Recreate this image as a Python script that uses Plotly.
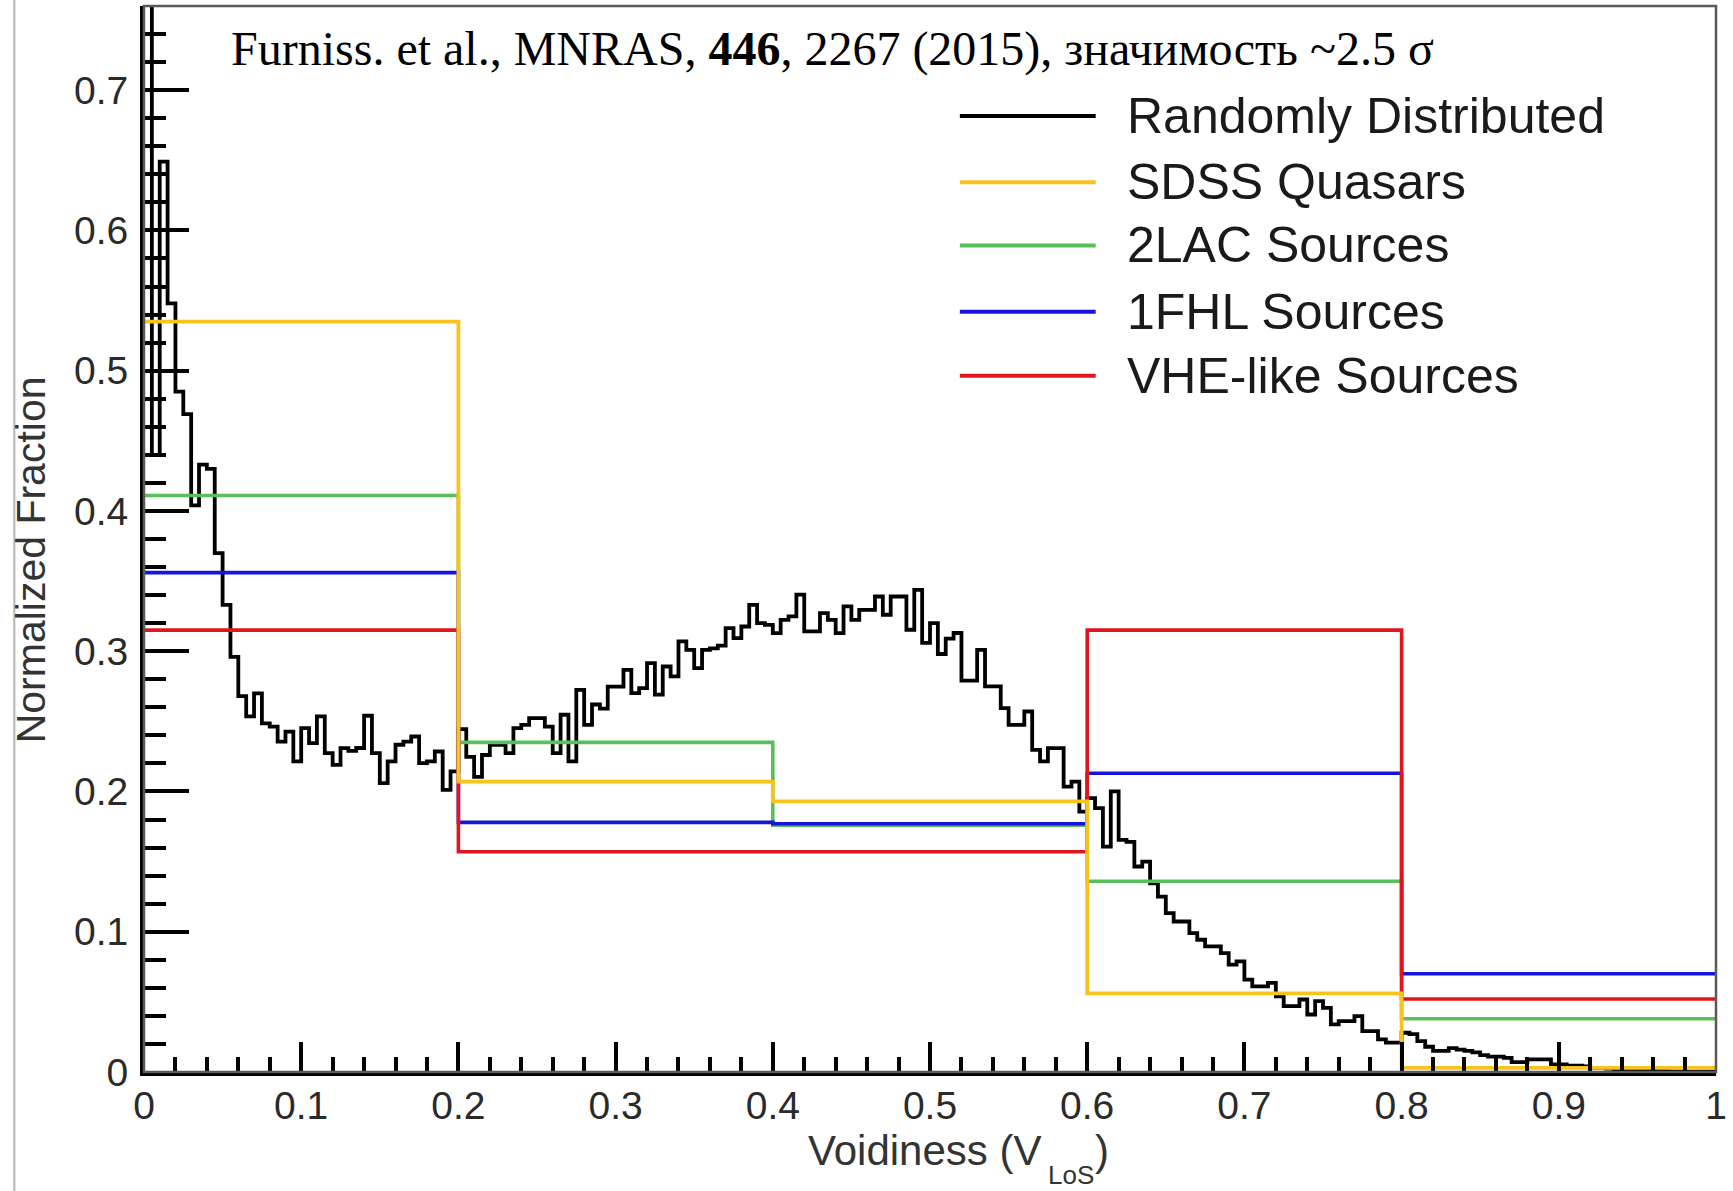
import plotly.graph_objects as go

# ---- Voidiness distribution of randomly distributed sky positions (200 bins of width 0.005)
random_bin_width = 0.005
random_fraction = [
    0.80, 0.44, 0.649, 0.548, 0.485, 0.469, 0.404, 0.433, 0.430, 0.370,
    0.333, 0.296, 0.268, 0.2535, 0.270, 0.2486, 0.2463, 0.2356, 0.2427, 0.2214,
    0.2452, 0.2345, 0.2535, 0.2273, 0.219, 0.2309, 0.229, 0.231, 0.254, 0.2273,
    0.2059, 0.2214, 0.2333, 0.2356, 0.2392, 0.2202, 0.2214, 0.2285, 0.2012, 0.2143,
    0.2445, 0.2247, 0.2104, 0.226, 0.2333, 0.2333, 0.2273, 0.2452, 0.2475, 0.2523,
    0.2523, 0.2463, 0.2273, 0.2547, 0.2214, 0.2725, 0.2475, 0.262, 0.259, 0.2748,
    0.2748, 0.2867, 0.2701, 0.2737, 0.2915, 0.269, 0.2891, 0.282, 0.307, 0.301,
    0.2879, 0.301, 0.302, 0.304, 0.3164, 0.3093, 0.3176, 0.333, 0.320, 0.3188,
    0.3129, 0.3224, 0.3248, 0.3403, 0.3141, 0.3141, 0.3272, 0.3224, 0.3129, 0.332,
    0.3224, 0.3295, 0.3295, 0.339, 0.326, 0.339, 0.339, 0.3153, 0.3438, 0.306,
    0.320, 0.298, 0.309, 0.313, 0.279, 0.279, 0.301, 0.275, 0.275, 0.2594,
    0.2475, 0.2475, 0.257, 0.2297, 0.2214, 0.2309, 0.2309, 0.2035, 0.207, 0.1857,
    0.1952, 0.1881, 0.1607, 0.200, 0.1655, 0.164, 0.1465, 0.150, 0.1345, 0.125,
    0.1133, 0.1073, 0.1073, 0.099, 0.0943, 0.0896, 0.0896, 0.0848, 0.0765, 0.0789,
    0.0659, 0.0611, 0.0611, 0.0635, 0.054, 0.0469, 0.0469, 0.0517, 0.041, 0.0505,
    0.0457, 0.0339, 0.0363, 0.0363, 0.0398, 0.0291, 0.0291, 0.0232, 0.0209, 0.0209,
    0.028, 0.027, 0.022, 0.018, 0.015, 0.015, 0.017, 0.016, 0.015, 0.014,
    0.012, 0.011, 0.011, 0.010, 0.007, 0.007, 0.009, 0.009, 0.009, 0.0055,
    0.0055, 0.0045, 0.0045, 0.004, 0.003, 0.003, 0.0025, 0.002, 0.002, 0.0015,
    0.0015, 0.001, 0.001, 0.0008, 0.0005, 0.0005, 0.0003, 0.0003, 0.0002, 0.0002,
]

# ---- Source catalogues in five coarse voidiness bins
coarse_edges = [0.0, 0.2, 0.4, 0.6, 0.8, 1.0]
sdss_quasars = [0.535, 0.207, 0.193, 0.056, 0.003]
lac2_sources = [0.411, 0.235, 0.176, 0.136, 0.038]
fhl1_sources = [0.356, 0.178, 0.177, 0.213, 0.070]
vhe_like_sources = [0.315, 0.157, 0.157, 0.315, 0.052]

# ---- Axis ticks
x_ticks = [0, 0.1, 0.2, 0.3, 0.4, 0.5, 0.6, 0.7, 0.8, 0.9, 1.0]
x_tick_labels = ["0", "0.1", "0.2", "0.3", "0.4", "0.5", "0.6", "0.7", "0.8", "0.9", "1"]
y_ticks = [0, 0.1, 0.2, 0.3, 0.4, 0.5, 0.6, 0.7]
y_tick_labels = ["0", "0.1", "0.2", "0.3", "0.4", "0.5", "0.6", "0.7"]

# ---- Legend entries (label, colour), top to bottom
COL_BLACK = "#000000"
COL_YELLOW = "#F7C31C"
COL_GREEN = "#58C058"
COL_BLUE = "#1414DC"
COL_RED = "#E0161E"
legend_entries = [
    ("Randomly Distributed", COL_BLACK),
    ("SDSS Quasars", COL_YELLOW),
    ("2LAC Sources", COL_GREEN),
    ("1FHL Sources", COL_BLUE),
    ("VHE-like Sources", COL_RED),
]

SANS = "Liberation Sans, Arial, Helvetica, sans-serif"
SERIF = "Liberation Serif, Times New Roman, serif"


def step_xy(edges, values):
    """Points for an 'hv' step outline of a histogram with the given bin edges."""
    return list(edges), list(values) + [values[-1]]


random_edges = [round(i * random_bin_width, 4) for i in range(len(random_fraction) + 1)]

fig = go.Figure()

series = [
    ("Randomly Distributed", random_edges, random_fraction, COL_BLACK, 3.8),
    ("2LAC Sources", coarse_edges, lac2_sources, COL_GREEN, 3.6),
    ("1FHL Sources", coarse_edges, fhl1_sources, COL_BLUE, 3.6),
    ("VHE-like Sources", coarse_edges, vhe_like_sources, COL_RED, 3.6),
    ("SDSS Quasars", coarse_edges, sdss_quasars, COL_YELLOW, 3.8),
]
for name, edges, vals, col, lw in series:
    xs, ys = step_xy(edges, vals)
    fig.add_trace(go.Scatter(
        x=xs, y=ys, mode="lines", name=name,
        line=dict(color=col, width=lw, shape="hv"),
        showlegend=False, hoverinfo="skip",
    ))

# ---- Hand-drawn legend inside the frame
legend_x0, legend_x1, legend_text_x = 0.519, 0.6054, 0.624
legend_rows = [0.6816, 0.6343, 0.5893, 0.5421, 0.4964]
shapes = []
annotations = []
for (label, col), yrow in zip(legend_entries, legend_rows):
    shapes.append(dict(type="line", xref="x", yref="y",
                       x0=legend_x0, x1=legend_x1, y0=yrow, y1=yrow,
                       line=dict(color=col, width=4)))
    annotations.append(dict(xref="x", yref="y", x=legend_text_x, y=yrow,
                            text=label, showarrow=False,
                            xanchor="left", yanchor="middle",
                            font=dict(family=SANS, size=50, color="#1a1a1a")))

# Frame box (top and right edges in grey)
shapes.append(dict(type="rect", xref="paper", yref="paper", x0=0, x1=1, y0=0, y1=1,
                   line=dict(color="#5a5a5a", width=2.5), layer="above"))
# Thin grey canvas border on the left
shapes.append(dict(type="line", xref="paper", yref="paper",
                   x0=-0.0825, x1=-0.0825, y0=-0.12, y1=1.02,
                   line=dict(color="#b4b4b4", width=2)))

# Reference caption
annotations.append(dict(xref="x", yref="y", x=0.054, y=0.729,
                        text="Furniss. et al., MNRAS, <b>446</b>, 2267 (2015), значимость ~2.5 σ",
                        showarrow=False, xanchor="left", yanchor="middle",
                        font=dict(family=SERIF, size=48, color="#000000")))

# Axis titles
annotations.append(dict(xref="paper", yref="y", x=-0.0717, y=0.365,
                        text="Normalized Fraction", textangle=-90, showarrow=False,
                        xanchor="center", yanchor="middle",
                        font=dict(family=SANS, size=41, color="#333333")))
# x title: "Voidiness (V", a lowered "LoS" subscript, and the closing bracket
title_font = dict(family=SANS, size=42, color="#333333")
annotations.append(dict(xref="x", yref="paper", x=0.5717, y=-0.074,
                        text="Voidiness (V", showarrow=False,
                        xanchor="right", yanchor="middle", font=title_font))
annotations.append(dict(xref="x", yref="paper", x=0.5735, y=-0.0966,
                        text="LoS", showarrow=False,
                        xanchor="left", yanchor="middle",
                        font=dict(family=SANS, size=26, color="#333333")))
annotations.append(dict(xref="x", yref="paper", x=0.6035, y=-0.074,
                        text=")", showarrow=False,
                        xanchor="left", yanchor="middle", font=title_font))

axis_common = dict(
    ticks="inside", tickcolor="black", tickwidth=3.5,
    showline=True, linecolor="black", linewidth=4,
    showgrid=False, zeroline=False,
    tickfont=dict(family=SANS, size=39, color="#2a2a2a"),
)

fig.update_layout(
    width=1733, height=1191,
    margin=dict(l=144, r=14, t=6, b=119, pad=0),
    paper_bgcolor="white", plot_bgcolor="white",
    showlegend=False,
    xaxis=dict(range=[0, 1], tickmode="array", tickvals=x_ticks, ticktext=x_tick_labels,
               ticklen=30,
               minor=dict(tickmode="linear", tick0=0, dtick=0.02, ticks="inside",
                          ticklen=15, tickwidth=3.5, tickcolor="black", showgrid=False),
               ticklabelstandoff=-4,
               **axis_common),
    yaxis=dict(range=[0, 0.76], tickmode="array", tickvals=y_ticks, ticktext=y_tick_labels,
               ticklen=45,
               minor=dict(tickmode="linear", tick0=0, dtick=0.02, ticks="inside",
                          ticklen=22, tickwidth=3.5, tickcolor="black", showgrid=False),
               ticklabelstandoff=4,
               **axis_common),
    shapes=shapes,
    annotations=annotations,
)

fig.write_html("out.html")
